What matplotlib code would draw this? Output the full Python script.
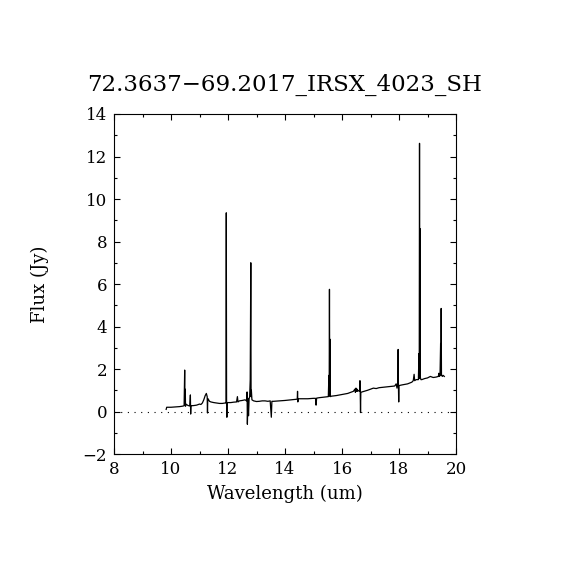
import matplotlib
matplotlib.use("Agg")
import matplotlib.pyplot as plt
from matplotlib.ticker import MultipleLocator

title = "72.3637\u221269.2017_IRSX_4023_SH"
xlabel = "Wavelength (um)"
ylabel = "Flux (Jy)"

wave = [
    9.83, 9.85, 9.9, 10.0, 10.1, 10.2, 10.3, 10.4,
    10.46, 10.48, 10.49, 10.50, 10.51, 10.52, 10.6,
    10.66, 10.68, 10.69, 10.70, 10.8, 10.9, 11.0, 11.05, 11.1, 11.15, 11.2, 11.24,
    11.27, 11.28, 11.29, 11.30, 11.35, 11.4, 11.5, 11.6, 11.7, 11.8, 11.9,
    11.93, 11.94, 11.95, 11.96, 11.97, 12.0, 12.1, 12.2, 12.3, 12.33, 12.35, 12.4, 12.5, 12.6,
    12.65, 12.67, 12.68, 12.70, 12.72, 12.74, 12.76, 12.78, 12.80, 12.81, 12.82, 12.84,
    12.9, 13.0, 13.1, 13.2, 13.3, 13.4, 13.48, 13.50, 13.52, 13.54, 13.6, 13.8, 14.0, 14.2,
    14.4, 14.43, 14.44, 14.45, 14.46, 14.6, 14.8, 15.0, 15.07, 15.09, 15.11, 15.2, 15.4,
    15.52, 15.54, 15.55, 15.56, 15.57, 15.58, 15.59, 15.60, 15.62, 15.8, 16.0, 16.2, 16.4,
    16.45, 16.47, 16.49, 16.51, 16.53, 16.55, 16.6, 16.62, 16.63, 16.64, 16.65, 16.66, 16.7,
    16.9, 17.1, 17.2, 17.3, 17.5, 17.7, 17.85, 17.9, 17.93, 17.96, 17.97, 17.98, 17.99, 18.0,
    18.1, 18.3, 18.45, 18.5, 18.53, 18.55, 18.6, 18.68, 18.70, 18.71, 18.72, 18.73, 18.74,
    18.75, 18.77, 18.8, 18.9, 19.0, 19.1, 19.2, 19.3, 19.38, 19.40, 19.42, 19.44, 19.46,
    19.47, 19.48, 19.49, 19.50, 19.52, 19.55, 19.59,
]

flux = [
    0.10, 0.20, 0.20, 0.20, 0.21, 0.22, 0.23, 0.25,
    0.27, 1.95, 0.30, 1.05, 0.25, 0.35, 0.28,
    0.26, 0.78, -0.12, 0.27, 0.28, 0.30, 0.35, 0.33, 0.40, 0.55, 0.75, 0.85,
    0.70, -0.07, 0.60, 0.60, 0.48, 0.45, 0.42, 0.40, 0.38, 0.38, 0.40,
    0.40, 9.35, 0.42, -0.27, 0.42, 0.42, 0.42, 0.44, 0.45, 0.70, 0.45, 0.50, 0.52, 0.55,
    0.50, 0.92, -0.60, 0.60, -0.20, 0.60, 0.70, 1.50, 7.00, 0.70, 1.00, 0.55,
    0.50, 0.47, 0.48, 0.50, 0.50, 0.48, 0.50, 0.10, -0.27, 0.48, 0.48, 0.50, 0.52, 0.55,
    0.58, 0.58, 0.95, 0.45, 0.60, 0.60, 0.60, 0.62, 0.62, 0.30, 0.63, 0.65, 0.68,
    0.70, 1.70, 0.72, 5.75, 0.75, 3.40, 0.72, 0.70, 0.72, 0.75, 0.80, 0.85, 0.95,
    1.05, 0.90, 1.10, 0.95, 1.05, 0.95, 1.00, 0.95, 1.45, 0.90, -0.05, 0.90, 0.92,
    1.00, 1.10, 1.08, 1.12, 1.15, 1.18, 1.20, 1.30, 1.10, 1.40, 2.92, 1.20, 0.45, 1.22,
    1.25, 1.30, 1.38, 1.45, 1.75, 1.45, 1.50, 1.50, 2.72, 1.55, 12.62, 1.60, 8.60,
    1.60, 1.50, 1.50, 1.55, 1.58, 1.65, 1.60, 1.62, 1.65, 1.80, 1.65, 1.70, 3.20,
    1.70, 4.85, 1.75, 1.70, 1.65, 1.70, 1.65,
]

xlim = (8, 20)
ylim = (-2, 14)

plt.rcParams['font.family'] = ['DejaVu Serif']
fig = plt.figure(figsize=(5.7, 5.7), dpi=100)
ax = fig.add_axes([0.2, 0.2035, 0.6, 0.5965])

ax.plot(wave, flux, color='black', linewidth=0.9)
ax.axhline(0, color='black', linestyle=(0, (1, 5)), linewidth=0.8)

ax.set_xlim(*xlim)
ax.set_ylim(*ylim)
ax.xaxis.set_major_locator(MultipleLocator(2))
ax.xaxis.set_minor_locator(MultipleLocator(1))
ax.yaxis.set_major_locator(MultipleLocator(2))
ax.yaxis.set_minor_locator(MultipleLocator(1))
ax.tick_params(which='both', direction='in', top=True, right=True, width=0.8, labelsize=12)
ax.tick_params(which='major', length=4.5, pad=5)
ax.tick_params(which='minor', length=2.5)
for s in ax.spines.values():
    s.set_linewidth(0.8)

ax.set_title(title, fontsize=16.5, pad=17)
ax.set_xlabel(xlabel, fontsize=13, labelpad=5)
ax.set_ylabel(ylabel, fontsize=13, labelpad=24)

fig.savefig("out.png", dpi=100)
